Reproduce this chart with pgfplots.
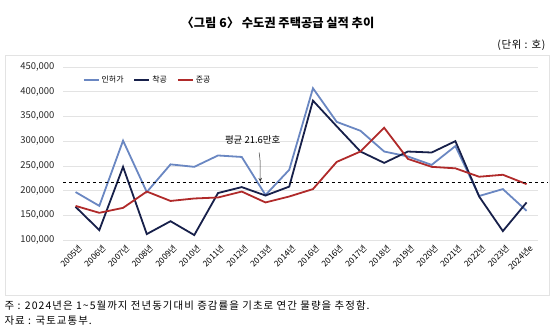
\documentclass[border=0pt]{standalone}
\usepackage{pgfplots}
\pgfplotsset{compat=1.18}
\usepackage{fontspec}
\setmainfont{Noto Sans CJK KR}
\usetikzlibrary{arrows.meta}

\definecolor{permitc}{HTML}{6A87C2}
\definecolor{startc}{HTML}{17204A}
\definecolor{donec}{HTML}{B02A2A}
\definecolor{gridc}{HTML}{E3E3E3}
\definecolor{framec}{HTML}{E3E3E3}

% annual housing supply, Seoul metropolitan area (units)
% columns: index, permits (인허가), starts (착공), completions (준공)
\pgfplotstableread{
x permit start done
0  197000 167000 169000
1  169000 120000 155000
2  301000 248000 165000
3  197000 112000 198000
4  253000 138000 179000
5  248000 110000 184000
6  271000 195000 186000
7  268000 207000 198000
8  191000 190000 176000
9  242000 208000 188000
10 407000 382000 203000
11 339000 330000 258000
12 321000 279000 279000
13 279000 256000 327000
14 269000 279000 264000
15 252000 277000 248000
16 290000 300000 245000
17 189000 188000 228000
18 203000 118000 232000
19 159000 176000 213000
}\supply

\newcommand\notefont{\fontsize{10.5}{12}\selectfont\addfontfeature{LetterSpace=10}}

\begin{document}
\begin{tikzpicture}
\useasboundingbox (0bp,0bp) rectangle (559bp,331bp);
% outer frame
\draw[framec, line width=0.9bp] (5bp,276bp) rectangle (549bp,36bp);
% title and unit
\node[font=\fontsize{12.3}{14}\selectfont\bfseries] at (278bp,308bp) {〈그림 6〉 수도권 주택공급 실적 추이};
\node[anchor=east, font=\fontsize{10.5}{12}\selectfont\addfontfeature{LetterSpace=7}] at (549bp,286bp) {(단위 : 호)};
% notes
\node[anchor=west, font=\notefont] at (1bp,25bp) {주 : 2024년은 1\textasciitilde5월까지 전년동기대비 증감률을 기초로 연간 물량을 추정함.};
\node[anchor=west, font=\notefont] at (1bp,10bp) {자료 : 국토교통부.};

\begin{axis}[
  at={(63bp,91bp)}, anchor=south west,
  scale only axis, width=475bp, height=173bp,
  xmin=-0.53, xmax=19.48,
  ymin=100000, ymax=450000,
  ytick={100000,150000,...,450000},
  scaled y ticks=false,
  /pgf/number format/assume math mode=true,
  yticklabel={\pgfmathprintnumber[fixed,1000 sep={,}]{\tick}},
  yticklabel style={font=\fontsize{9.5}{10}\selectfont, xshift=-5bp, text=black!85},
  xtick={0,...,19},
  xticklabels={2005년,2006년,2007년,2008년,2009년,2010년,2011년,2012년,2013년,2014년,2016년,2016년,2017년,2018년,2019년,2020년,2021년,2022년,2023년,2024년e},
  xticklabel style={font=\fontsize{8.3}{9}\selectfont, rotate=45, anchor=east, yshift=-8bp, xshift=2bp},
  major tick length=0,
  axis line style={draw=none},
  ymajorgrids, grid style={gridc, line width=0.7bp},
  clip=false,
  legend style={at={(0.035,0.925)}, anchor=west, draw=none, fill=none,
    font=\fontsize{8}{9}\selectfont, legend columns=3,
    /tikz/every even column/.append style={column sep=8bp}},
  legend image code/.code={\draw[#1] (0bp,0bp) -- (15bp,0bp);},
]
\addplot[permitc, line width=1.8bp] table[x=x,y=permit]{\supply};
\addlegendentry{인허가}
\addplot[startc, line width=1.8bp] table[x=x,y=start]{\supply};
\addlegendentry{착공}
\addplot[donec, line width=1.8bp] table[x=x,y=done]{\supply};
\addlegendentry{준공}
% long-run average, 216 thousand units
\addplot[black, dashed, line width=0.6bp, forget plot] coordinates {(-0.53,216000) (19.9,216000)};
\node[font=\fontsize{9.5}{11}\selectfont] at (axis cs:7.46,302000) {평균 21.6만호};
\draw[-{Stealth[length=4bp,width=3.5bp]}, black!80, line width=0.5bp]
  (axis cs:7.73,277000) to[out=-80,in=95] (axis cs:7.79,217500);
\end{axis}
\end{tikzpicture}
\end{document}
